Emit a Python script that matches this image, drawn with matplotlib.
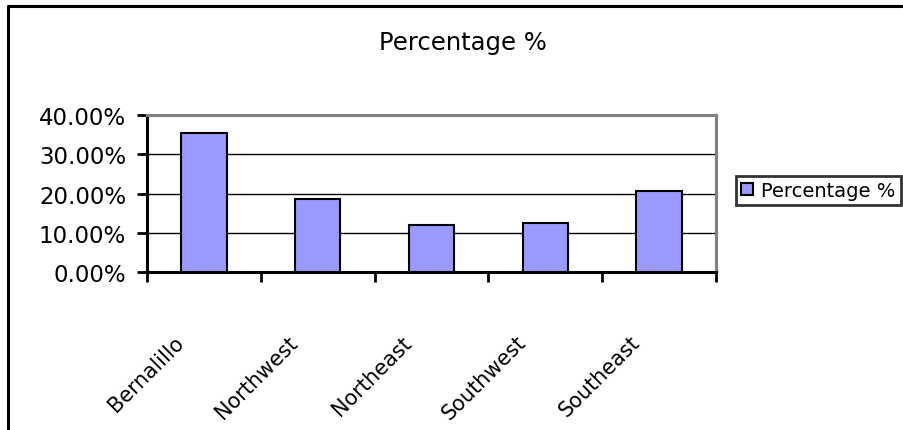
import matplotlib
matplotlib.use("Agg")
import matplotlib.pyplot as plt
import matplotlib.transforms as mtransforms
import numpy as np
from matplotlib.lines import Line2D

categories = ["Bernalillo", "Northwest", "Northeast", "Southwest", "Southeast"]
values = [35.3, 18.5, 11.9, 12.4, 20.6]
yticks = [0, 10, 20, 30, 40]
ytick_labels = ["0.00%", "10.00%", "20.00%", "30.00%", "40.00%"]
title = "Percentage %"
series_name = "Percentage %"

plt.rcParams['font.family'] = ['DejaVu Sans']

W, H = 904, 431
fig = plt.figure(figsize=(W / 100, H / 100), dpi=100)
fig.patch.set_facecolor('white')

# outer chart frame (top and left visible, runs off the right/bottom)
fig.add_artist(Line2D([8 / W, 8 / W, 1.0], [0, 1 - 7 / H, 1 - 7 / H],
                      transform=fig.transFigure, color='black', lw=2.2))

ax = fig.add_axes([147 / W, (H - 273) / H, (716 - 147) / W, (273 - 116) / H])
x = np.arange(len(categories))
ax.bar(x, values, width=0.4, color='#9999FF', edgecolor='black',
       linewidth=1.5, label=series_name, zorder=3)
ax.set_xlim(-0.5, len(categories) - 0.5)
ax.set_ylim(yticks[0], yticks[-1])
ax.set_yticks(yticks)
ax.set_yticklabels(ytick_labels, fontsize=16.5)
ax.yaxis.grid(True, color='black', lw=1.0)
ax.set_axisbelow(True)

ax.set_xticks(np.arange(-0.5, len(categories), 1.0))
ax.set_xticklabels([])
ax.set_xticks(x, minor=True)
ax.set_xticklabels(categories, minor=True, rotation=45, ha='right',
                   rotation_mode='anchor', fontsize=15)
ax.tick_params(axis='x', which='minor', length=0, pad=43)
ax.tick_params(axis='both', which='major', direction='out', length=7,
               width=2, color='black')
ax.tick_params(axis='y', pad=8)

shift = mtransforms.ScaledTranslation(-0.30, 0, fig.dpi_scale_trans)
for lab in ax.get_xticklabels(minor=True):
    lab.set_transform(lab.get_transform() + shift)

for s in ['left', 'bottom']:
    ax.spines[s].set_color('black')
    ax.spines[s].set_linewidth(2.2)
for s in ['top', 'right']:
    ax.spines[s].set_color('#808080')
    ax.spines[s].set_linewidth(2.2)

fig.text(463 / W, 1 - 43 / H, title, ha='center', va='center', fontsize=17.5)

leg = fig.legend(loc='upper left', bbox_to_anchor=(736 / W, 1 - 177 / H),
                 frameon=True, fancybox=False, fontsize=14,
                 handlelength=0.6, handleheight=0.6, handletextpad=0.45,
                 borderpad=0.25, borderaxespad=0)
leg.get_frame().set_edgecolor('black')
leg.get_frame().set_linewidth(2)

fig.savefig("out.png", dpi=100, facecolor='white')
